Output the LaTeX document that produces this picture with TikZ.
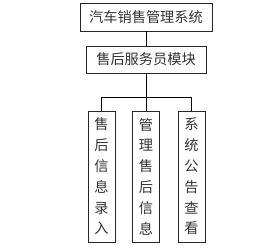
\documentclass[tikz,border=0pt]{standalone}
\usepackage{fontspec}
\newfontfamily\cjk{Noto Sans CJK SC}
\tikzset{
  box/.style={draw=black!85, line width=0.9pt, inner sep=0pt, font=\cjk\fontsize{14.2}{20.8}\selectfont, text=black!80},
  vbox/.style={box, minimum width=27pt, minimum height=131pt, align=center},
  link/.style={draw=black, line width=0.9pt}
}
\begin{document}
\begin{tikzpicture}[x=1pt,y=-1pt]
\useasboundingbox (0,0) rectangle (272,248);
\node[box, minimum width=132pt, minimum height=28pt] (top) at (146,17) {汽车销售管理系统};
\node[box, minimum width=120pt, minimum height=27pt] (mid) at (146,59.5) {售后服务员模块};
\node[vbox] (b1) at (101.5,176.5) {售\\后\\信\\息\\录\\入};
\node[vbox] (b2) at (146,176.5) {管\\理\\售\\后\\信\\息};
\node[vbox] (b3) at (191.5,176.5) {系\\统\\公\\告\\查\\看};
\draw[link] (top) -- (mid);
\draw[link] (mid) -- (b2);
\draw[link] (b1.north) -- ++(0,-13) -| (b3.north);
\end{tikzpicture}
\end{document}
